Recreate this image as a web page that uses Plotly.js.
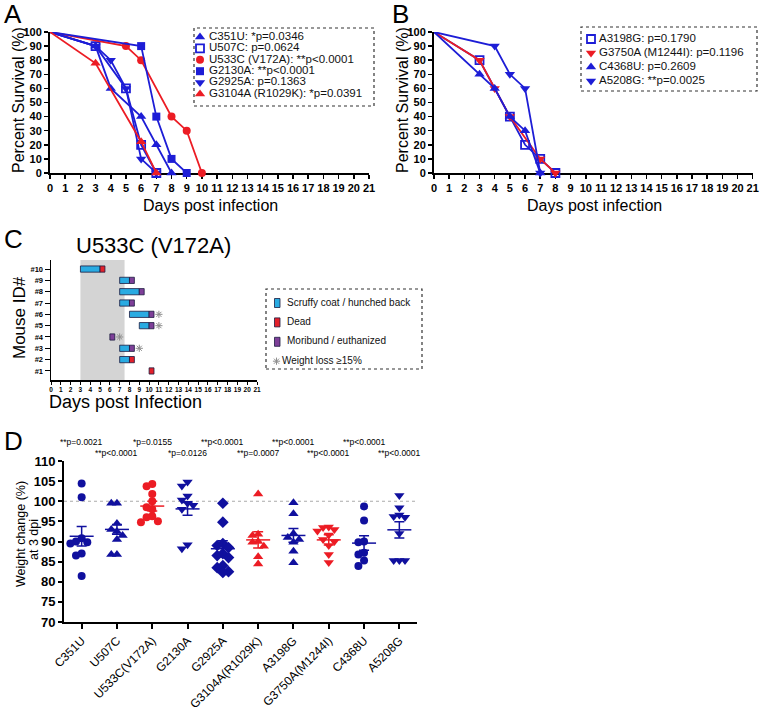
<!DOCTYPE html>
<html><head><meta charset="utf-8">
<script src="https://cdn.plot.ly/plotly-3.0.1.min.js"></script>
<style>html,body{margin:0;padding:0;background:#fff}#chart{width:760px;height:712px}</style>
</head><body><div id="chart"></div>
<script>
// ---------------- Panel A : survival ----------------
const a_C351U_days = [0, 3, 4, 6, 7, 8];
const a_C351U_surv = [100, 90, 60, 40, 20, 0];
const a_U507C_days = [0, 3, 5, 6, 7];
const a_U507C_surv = [100, 90, 60, 20, 0];
const a_U533C_days = [0, 5, 6, 8, 9, 10];
const a_U533C_surv = [100, 90, 80, 40, 30, 0];
const a_G2130A_days = [0, 6, 7, 8, 9];
const a_G2130A_surv = [100, 90, 40, 10, 0];
const a_G2925A_days = [0, 3, 4, 5, 6, 7];
const a_G2925A_surv = [100, 90, 80, 60, 10, 0];
const a_G3104A_days = [0, 3, 6, 7];
const a_G3104A_surv = [100, 77.8, 22.2, 0];
const aLabels = ["C351U: *p=0.0346", "U507C: p=0.0624", "U533C (V172A): **p<0.0001",
                 "G2130A: **p<0.0001", "G2925A: p=0.1363", "G3104A (R1029K): *p=0.0391"];

// ---------------- Panel B : survival ----------------
const b_A3198G_days = [0, 3, 5, 6, 7, 8];
const b_A3198G_surv = [100, 80, 40, 20, 10, 0];
const b_G3750A_days = [0, 3, 4, 5, 7, 8];
const b_G3750A_surv = [100, 80, 60, 40, 10, 0];
const b_C4368U_days = [0, 3, 4, 5, 6, 7];
const b_C4368U_surv = [100, 70, 60, 40, 30, 0];
const b_A5208G_days = [0, 4, 5, 6, 7];
const b_A5208G_surv = [100, 90, 70, 60, 0];
const bLabels = ["A3198G: p=0.1790", "G3750A (M1244I): p=0.1196", "C4368U: p=0.2609", "A5208G: **p=0.0025"];

// ---------------- Panel C : U533C (V172A) clinical course ----------------
const cTitle = "U533C (V172A)";
const cMouseIds = [1, 2, 3, 4, 5, 6, 7, 8, 9, 10];
const cSympStart = [null, 7, 7, null, 9, 8, 7, 7, 7, 3];
const cSympEnd   = [null, 8, 8, null, 10, 10, 8, 9, 8, 5];
const cOutcome   = ["Dead", "Dead", "Moribund", "Moribund", "Moribund", "Moribund", "Moribund", "Moribund", "Moribund", "Dead"];
const cOutStart  = [10, 8, 8, 6, 10, 10, 8, 9, 8, 5];
const cOutEnd    = [10.5, 8.5, 8.5, 6.5, 10.5, 10.5, 8.5, 9.5, 8.5, 5.5];
const cWeightLoss = [false, false, true, true, true, true, false, false, false, false];
const cShadeDays = [3, 7.5];
const cLegendLabels = ["Scruffy coat / hunched back", "Dead", "Moribund / euthanized", "Weight loss \u226515%"];

// ---------------- Panel D : weight change at 3 dpi ----------------
const dCategories = ["C351U", "U507C", "U533C(V172A)", "G2130A", "G2925A", "G3104A(R1029K)", "A3198G", "G3750A(M1244I)", "C4368U", "A5208G"];
const d_C351U  = [104.4, 101.0, 90.8, 90.0, 89.8, 89.5, 87.0, 86.5, 81.4];
const d_U507C  = [99.5, 99.5, 94.5, 93.0, 92.5, 91.5, 90.5, 86.8, 86.8];
const d_U533C  = [104.3, 103.7, 101.8, 100.0, 98.5, 98.0, 96.3, 96.0, 95.0, 94.8];
const d_G2130A = [104.8, 103.8, 101.3, 100.3, 99.5, 99.0, 98.0, 89.2, 88.2];
const d_G2925A = [99.5, 94.8, 89.5, 89.0, 88.5, 87.0, 86.5, 86.0, 84.0, 83.5, 82.5, 82.3];
const d_G3104A = [101.8, 91.8, 91.5, 90.0, 89.8, 88.8, 86.2, 84.4];
const d_A3198G = [99.6, 96.9, 92.0, 91.0, 90.5, 89.8, 87.6, 84.7];
const d_G3750A = [93.6, 93.5, 93.0, 92.6, 91.6, 90.5, 90.0, 89.0, 86.8, 84.8];
const d_C4368U = [98.7, 95.2, 90.0, 89.8, 87.2, 86.8, 85.3, 83.9];
const d_A5208G = [101.4, 98.4, 96.6, 96.2, 96.0, 92.0, 85.3, 85.3, 85.3];
const dMeans = [91.3, 93.0, 98.8, 98.1, 88.2, 90.4, 91.5, 90.4, 89.6, 92.9];
const dSEM   = [2.4, 1.2, 1.2, 1.6, 2.0, 2.0, 1.7, 1.3, 1.8, 2.0];
const dPvals = ["**p=0.0021", "**p<0.0001", "*p=0.0155", "*p=0.0126", "**p<0.0001",
                "**p=0.0007", "**p<0.0001", "**p<0.0001", "**p<0.0001", "**p<0.0001"];
const dRefLine = 100;

// ---------------- styling / layout helpers ----------------
const W = 760, H = 712;
const px = x => x / W;
const py = y => 1 - y / H;
const FONT = "Liberation Sans, Arial, sans-serif";
const BLUE = "#1d1dd6", RED = "#ec1c24", DBLUE = "#10109e";
const C_BLUE = "#29abe2", C_RED = "#e3202a", C_PURPLE = "#7e3f98";
const GREY_AST = "#8f8f8f";

const traces = [];

function survTrace(days, surv, color, symbol, xa, ya) {
  const open = symbol.indexOf("open") >= 0;
  return {
    type: "scatter", mode: "lines+markers", x: days, y: surv, xaxis: xa, yaxis: ya,
    line: {color: color, width: 1.8},
    marker: {symbol: symbol, color: color, opacity: 1,
             size: days.map(d => d === 0 ? 0 : (symbol.indexOf("triangle") >= 0 ? 9 : 8)),
             line: {color: color, width: open ? 1.8 : 0}},
    cliponaxis: false, hoverinfo: "skip"
  };
}

const aDays = [a_C351U_days, a_U507C_days, a_U533C_days, a_G2130A_days, a_G2925A_days, a_G3104A_days];
const aSurv = [a_C351U_surv, a_U507C_surv, a_U533C_surv, a_G2130A_surv, a_G2925A_surv, a_G3104A_surv];
const aColors = [BLUE, BLUE, RED, BLUE, BLUE, RED];
const aSymbols = ["triangle-up", "square-open", "circle", "square", "triangle-down", "triangle-up"];
aDays.forEach((d, i) => traces.push(survTrace(d, aSurv[i], aColors[i], aSymbols[i], "x", "y")));

const bDays = [b_A3198G_days, b_G3750A_days, b_C4368U_days, b_A5208G_days];
const bSurv = [b_A3198G_surv, b_G3750A_surv, b_C4368U_surv, b_A5208G_surv];
const bColors = [BLUE, RED, BLUE, BLUE];
const bSymbols = ["square-open", "triangle-down", "triangle-up", "triangle-down"];
bDays.forEach((d, i) => traces.push(survTrace(d, bSurv[i], bColors[i], bSymbols[i], "x2", "y2")));

function legendMarkers(rows, xPos, symbols, colors, xa, ya) {
  return {type: "scatter", mode: "markers", x: rows.map(() => xPos), y: rows, xaxis: xa, yaxis: ya,
    marker: {symbol: symbols, color: colors, opacity: 1, size: symbols.map(s => s.indexOf("triangle") >= 0 ? 9 : 8),
             line: {color: colors, width: symbols.map(s => s.indexOf("open") >= 0 ? 1.8 : 0)}},
    cliponaxis: false, hoverinfo: "skip"};
}
function legendText(rows, xPos, labels, size, xa, ya) {
  return {type: "scatter", mode: "text", x: Array.isArray(xPos) ? xPos : rows.map(() => xPos), y: rows, text: labels,
    textposition: "middle right", xaxis: xa, yaxis: ya, textfont: {family: FONT, size: size, color: "#111"},
    cliponaxis: false, hoverinfo: "skip"};
}

// legend A (axis x5/y5)
const aRows = aLabels.map((_, i) => 9 + 11.4 * i);
traces.push(legendMarkers(aRows, 6, aSymbols, aColors, "x5", "y5"));
traces.push(legendText(aRows, 15, aLabels, 11.5, "x5", "y5"));
// legend B (axis x6/y6)
const bRows = bLabels.map((_, i) => 12 + 14 * i);
traces.push(legendMarkers(bRows, 10, bSymbols, bColors, "x6", "y6"));
traces.push(legendText(bRows, 18, bLabels, 11.5, "x6", "y6"));

// Panel C bars
const barLine = {color: "#1c1c40", width: 0.8};
const symIdx = cMouseIds.map((_, i) => i).filter(i => cSympStart[i] !== null);
traces.push({type: "bar", orientation: "h", xaxis: "x3", yaxis: "y3", width: 0.55,
  y: symIdx.map(i => cMouseIds[i]), base: symIdx.map(i => cSympStart[i]), x: symIdx.map(i => cSympEnd[i] - cSympStart[i]),
  marker: {color: C_BLUE, line: barLine}, hoverinfo: "skip"});
[["Dead", C_RED], ["Moribund", C_PURPLE]].forEach(([kind, col]) => {
  const idx = cMouseIds.map((_, i) => i).filter(i => cOutcome[i] === kind);
  traces.push({type: "bar", orientation: "h", xaxis: "x3", yaxis: "y3", width: 0.55,
    y: idx.map(i => cMouseIds[i]), base: idx.map(i => cOutStart[i]), x: idx.map(i => cOutEnd[i] - cOutStart[i]),
    marker: {color: col, line: barLine}, hoverinfo: "skip"});
});
const wlIdx = cMouseIds.map((_, i) => i).filter(i => cWeightLoss[i]);
const astMarker = {symbol: "asterisk-open", size: 6, color: GREY_AST, line: {color: GREY_AST, width: 1}};
traces.push({type: "scatter", mode: "markers", xaxis: "x3", yaxis: "y3",
  x: wlIdx.map(i => cOutEnd[i] + 0.5), y: wlIdx.map(i => cMouseIds[i]),
  marker: astMarker, cliponaxis: false, hoverinfo: "skip"});

// legend C (axis x7/y7)
const cRows = cLegendLabels.map((_, i) => 14 + 19.4 * i);
traces.push({type: "scatter", mode: "markers", x: [10.5], y: [cRows[3]], xaxis: "x7", yaxis: "y7",
  marker: astMarker, cliponaxis: false, hoverinfo: "skip"});
traces.push(legendText(cRows, cRows.map((_, i) => i < 3 ? 21 : 16), cLegendLabels, 10, "x7", "y7"));

// Panel D
const dValues = [d_C351U, d_U507C, d_U533C, d_G2130A, d_G2925A, d_G3104A, d_A3198G, d_G3750A, d_C4368U, d_A5208G];
const dColors = [DBLUE, DBLUE, RED, DBLUE, DBLUE, RED, DBLUE, RED, DBLUE, DBLUE];
const dSymbols = ["circle", "triangle-up", "circle", "triangle-down", "diamond", "triangle-up", "triangle-up", "triangle-down", "circle", "triangle-down"];
function swarm(vals, center) {
  const order = vals.map((v, i) => i).sort((a, b) => vals[b] - vals[a]);
  const placed = [], xs = new Array(vals.length);
  const step = 0.16, dyLim = 1.7;
  order.forEach(i => {
    for (const k of [0, -1, 1, -2, 2, -3, 3]) {
      const x = center + k * step;
      if (!placed.some(p => Math.abs(p.x - x) < step * 0.9 && Math.abs(p.y - vals[i]) < dyLim)) {
        xs[i] = x; placed.push({x: x, y: vals[i]}); break;
      }
    }
  });
  return xs;
}
dValues.forEach((vals, i) => {
  traces.push({type: "scatter", mode: "markers", x: swarm(vals, i), y: vals, xaxis: "x4", yaxis: "y4",
    marker: {symbol: dSymbols[i], color: dColors[i], opacity: 1, size: dSymbols[i] === "circle" ? 8 : 9},
    cliponaxis: false, hoverinfo: "skip"});
  traces.push({type: "scatter", mode: "lines", x: [i - 0.34, i + 0.34], y: [dMeans[i], dMeans[i]], xaxis: "x4", yaxis: "y4",
    line: {color: dColors[i], width: 1.5}, hoverinfo: "skip"});
  traces.push({type: "scatter", mode: "markers", x: [i], y: [dMeans[i]], xaxis: "x4", yaxis: "y4",
    marker: {size: 1, opacity: 0}, error_y: {type: "data", array: [dSEM[i]], visible: true, color: dColors[i], thickness: 1.5, width: 5},
    hoverinfo: "skip"});
});

// ---------------- axes ----------------
const tickBold = s => ({family: FONT, size: s, weight: "bold", color: "#000"});
const axBase = {showline: true, linecolor: "#000", linewidth: 2, ticks: "outside", tickcolor: "#000", tickwidth: 1.5, ticklen: 4,
  showgrid: false, zeroline: false, fixedrange: true, layer: "below traces", tickfont: tickBold(11), tickangle: 0,
  ticklabeloverflow: "allow", automargin: false};
const hidden = {visible: false, fixedrange: true, showgrid: false, zeroline: false};
const dayTicks = Array.from({length: 22}, (_, k) => k);
const days21 = {range: [0, 21], tickmode: "array", tickvals: dayTicks};

const layout = {
  width: W, height: H, margin: {l: 0, r: 0, t: 0, b: 0, pad: 0}, autosize: false,
  paper_bgcolor: "#fff", plot_bgcolor: "rgba(0,0,0,0)", showlegend: false, barmode: "overlay",
  font: {family: FONT, color: "#000"},
  xaxis:  Object.assign({}, axBase, days21, {domain: [px(50), px(369)], anchor: "y"}),
  yaxis:  Object.assign({}, axBase, {domain: [py(173), py(32)], anchor: "x", range: [0, 100], tickmode: "linear", tick0: 0, dtick: 10}),
  xaxis2: Object.assign({}, axBase, days21, {domain: [px(434), px(753)], anchor: "y2", range: [0, 21.02]}),
  yaxis2: Object.assign({}, axBase, {domain: [py(173), py(32)], anchor: "x2", range: [0, 100], tickmode: "linear", tick0: 0, dtick: 10}),
  xaxis3: Object.assign({}, axBase, days21, {domain: [px(51), px(257)], anchor: "y3", linewidth: 1.5, tickwidth: 1, ticklen: 3, tickfont: tickBold(6.5)}),
  yaxis3: Object.assign({}, axBase, {domain: [py(380), py(260)], anchor: "x3", range: [0.2, 10.8], tickvals: cMouseIds,
    ticktext: cMouseIds.map(n => "#" + n), linewidth: 1.5, tickwidth: 1, ticklen: 5, tickfont: tickBold(7.5)}),
  xaxis4: Object.assign({}, axBase, {domain: [px(64), px(417)], anchor: "y4", range: [-0.5, 9.5], tickvals: dCategories.map((_, i) => i),
    ticktext: dCategories, tickangle: -45, tickwidth: 2, ticklen: 5, tickfont: {family: FONT, size: 12, color: "#000"}}),
  yaxis4: Object.assign({}, axBase, {domain: [py(622), py(461)], anchor: "x4", range: [70, 110], tickmode: "linear", tick0: 70, dtick: 5,
    tickwidth: 2, ticklen: 4, tickfont: tickBold(13)}),
  xaxis5: Object.assign({}, hidden, {domain: [px(194), px(374)], anchor: "y5", range: [0, 180]}),
  yaxis5: Object.assign({}, hidden, {domain: [py(106), py(28)], anchor: "x5", range: [78, 0]}),
  xaxis6: Object.assign({}, hidden, {domain: [px(581), px(757)], anchor: "y6", range: [0, 176]}),
  yaxis6: Object.assign({}, hidden, {domain: [py(91), py(27)], anchor: "x6", range: [64, 0]}),
  xaxis7: Object.assign({}, hidden, {domain: [px(266), px(422)], anchor: "y7", range: [0, 156]}),
  yaxis7: Object.assign({}, hidden, {domain: [py(369), py(289)], anchor: "x7", range: [80, 0]}),
  shapes: [
    {type: "rect", xref: "paper", yref: "paper", x0: px(194), x1: px(374), y0: py(106), y1: py(28), line: {color: "#333", width: 1.2, dash: "dot"}},
    {type: "rect", xref: "paper", yref: "paper", x0: px(581), x1: px(757), y0: py(91), y1: py(27), line: {color: "#333", width: 1.2, dash: "dot"}},
    {type: "rect", xref: "paper", yref: "paper", x0: px(266), x1: px(422), y0: py(369), y1: py(289), line: {color: "#333", width: 1.2, dash: "dot"}},
    {type: "rect", xref: "x3", yref: "y3 domain", x0: cShadeDays[0], x1: cShadeDays[1], y0: 0, y1: 1, fillcolor: "#d4d4d4", line: {width: 0}, layer: "below"},
    {type: "line", xref: "x4 domain", yref: "y4", x0: 0, x1: 1, y0: dRefLine, y1: dRefLine, line: {color: "#aaaaaa", width: 1, dash: "dot"}, layer: "below"}
  ].concat([C_BLUE, C_RED, C_PURPLE].map((col, i) => ({type: "rect", xref: "x7", yref: "y7", x0: 8.5, x1: 14, y0: cRows[i] - 4.5, y1: cRows[i] + 4.5,
    fillcolor: col, line: {color: "#1c1c40", width: 0.8}}))),
  annotations: []
};

const ann = (text, x, y, size, extra) => Object.assign({text: text, xref: "paper", yref: "paper", x: px(x), y: py(y), showarrow: false,
  font: {family: FONT, size: size, color: "#000"}, xanchor: "center", yanchor: "middle"}, extra || {});
layout.annotations.push(
  ann("A", 2, 14, 26, {xanchor: "left"}),
  ann("B", 390, 14, 26, {xanchor: "left"}),
  ann("C", 2, 239, 26, {xanchor: "left"}),
  ann("D", 2, 441, 26, {xanchor: "left"}),
  ann("Percent Survival (%)", 18, 100, 16, {textangle: -90}),
  ann("Percent Survival (%)", 402, 100, 16, {textangle: -90}),
  ann("Days post infection", 210, 205, 16),
  ann("Days post infection", 594, 205, 16),
  ann(cTitle, 153, 245, 22),
  ann("Mouse ID#", 20, 318, 17, {textangle: -90}),
  ann("Days post Infection", 125, 402, 18),
  ann("Weight change (%)", 21, 534, 12.5, {textangle: -90}),
  ann("at 3 dpi", 34, 540, 12.5, {textangle: -90})
);
dPvals.forEach((p, i) => layout.annotations.push({text: p, xref: "x4", yref: "paper", x: i, y: py(i % 2 === 0 ? 442 : 453),
  showarrow: false, font: {family: FONT, size: 8.5, color: "#000"}, xanchor: "center", yanchor: "middle"}));

Plotly.newPlot("chart", traces, layout, {staticPlot: true, displayModeBar: false});
</script>
</body></html>
